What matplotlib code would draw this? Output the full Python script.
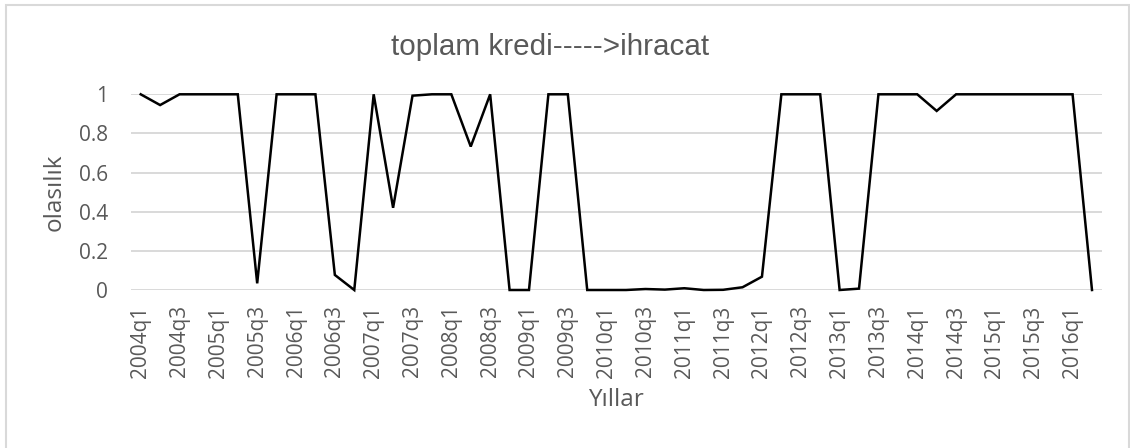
import matplotlib
matplotlib.use("Agg")
import matplotlib.pyplot as plt
from matplotlib.patches import Rectangle

plt.rcParams['font.family'] = ['Open Sans', 'DejaVu Sans']

quarters = [f"{y}q{q}" for y in range(2004, 2017) for q in range(1, 5)][:50]
probability = [
    1.0, 0.945, 1.0, 1.0, 1.0, 1.0, 0.034, 1.0, 1.0, 1.0,
    0.077, 0.0, 1.0, 0.42, 0.993, 1.0, 1.0, 0.733, 1.0, 0.0,
    0.0, 1.0, 1.0, 0.0, 0.0, 0.0, 0.005, 0.002, 0.009, 0.0,
    0.001, 0.014, 0.068, 1.0, 1.0, 1.0, 0.0, 0.007, 1.0, 1.0,
    1.0, 0.915, 1.0, 1.0, 1.0, 1.0, 1.0, 1.0, 1.0, 0.0,
]
y_ticks = [0, 0.2, 0.4, 0.6, 0.8, 1]
y_tick_labels = ["0", "0.2", "0.4", "0.6", "0.8", "1"]

W, H = 1130, 448
fig = plt.figure(figsize=(W / 100, H / 100), dpi=100)

# chart area frame
fig.patches.append(Rectangle((6 / W, -0.01), (1129 - 6) / W, 1 - 5 / H + 0.01,
                             transform=fig.transFigure, fill=False,
                             edgecolor="#d9d9d9", linewidth=1.5))

left, right = 131 / W, 1101.7 / W
bottom, top = 1 - 290 / H, 1 - 94.3 / H
ax = fig.add_axes([left, bottom, right - left, top - bottom])

x = list(range(len(quarters)))
ax.plot(x, probability, color="black", linewidth=1.8, clip_on=False, zorder=3,
        solid_joinstyle="miter")

ax.set_xlim(-0.5, len(quarters) - 0.5)
ax.set_ylim(0, 1)
ax.set_yticks(y_ticks)
ax.set_yticklabels(y_tick_labels)
ax.set_xticks(x[::2])
ax.set_xticklabels(quarters[::2], rotation=90)

ax.grid(axis="y", color="#d9d9d9", linewidth=1.4)
ax.set_axisbelow(True)
for s in ax.spines.values():
    s.set_visible(False)
ax.tick_params(axis="both", length=0, colors="#595959", labelsize=15)
ax.tick_params(axis="y", pad=16.5)
ax.tick_params(axis="x", pad=11)

fig.text(550 / W, 1 - 47 / H, "toplam kredi----->ihracat", ha="center", va="center",
         fontsize=21.3, color="#595959", family=["Liberation Sans", "DejaVu Sans"])
fig.text(616 / W, 1 - 400 / H, "Yıllar", ha="center", va="center",
         fontsize=17.5, color="#595959")
fig.text(55 / W, 1 - 192 / H, "olasılık", ha="center", va="center", rotation=90,
         fontsize=17.5, color="#595959")

fig.savefig("out.png", dpi=100)
